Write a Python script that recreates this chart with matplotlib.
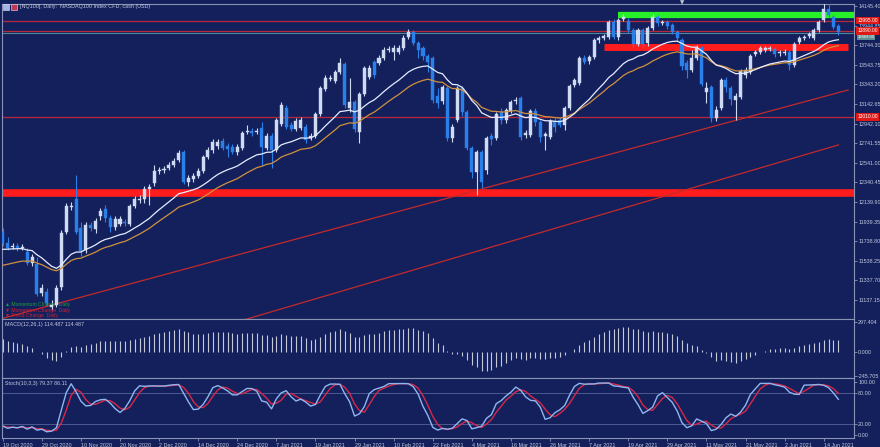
import matplotlib
matplotlib.use('Agg')
import matplotlib.pyplot as plt
import matplotlib.transforms as mtransforms
import numpy as np
import pandas as pd

plt.rcParams['font.family'] = ['Liberation Sans', 'DejaVu Sans']

# ---------------- data ----------------
opens = [11834, 11721, 11680, 11690, 11670, 11629, 11517, 11506, 11210, 11220,
         11066, 11087, 11271, 11834, 12089, 12171, 11875, 11649, 11905, 11864,
         11997, 12069, 11977, 11885, 11915, 11936, 11915, 12100, 12161, 12171,
         12274, 12335, 12458, 12468, 12488, 12519, 12570, 12652, 12345, 12376,
         12407, 12458, 12601, 12672, 12713, 12765, 12713, 12703, 12652, 12693,
         12857, 12867, 12857, 12898, 12693, 12816, 12672, 12938, 13102, 12928,
         12887, 12898, 12908, 12795, 12816, 13041, 13297, 13399, 13378, 13470,
         13552, 13102, 13164, 12857, 13245, 13419, 13573, 13563, 13614, 13695,
         13675, 13675, 13716, 13828, 13880, 13767, 13716, 13634, 13614, 13225,
         13174, 13307, 12795, 12979, 13307, 13061, 12693, 12447, 12652, 12468,
         12816, 12795, 13061, 12979, 13071, 13174, 13204, 12826, 12826, 13071,
         12959, 12816, 12805, 12969, 12979, 12928, 13102, 13337, 13358, 13614,
         13583, 13624, 13798, 13818, 13828, 13982, 13828, 14013, 13992, 13900,
         13757, 13900, 13767, 13921, 14033, 13972, 13982, 13951, 13880, 13798,
         13563, 13491, 13614, 13716, 13266, 13317, 13000, 13102, 13389, 13307,
         13184, 13215, 13440, 13470, 13655, 13675, 13695, 13706, 13706, 13665,
         13665, 13675, 13542, 13777, 13818, 13839, 13818, 13900, 14002, 14115,
         14033, 13941]
closes = [11721, 11670, 11690, 11670, 11680, 11517, 11578, 11199, 11261, 11107,
          11087, 11261, 11823, 12100, 12100, 11834, 11639, 11905, 11875, 11946,
          12048, 11977, 11885, 11967, 11967, 11926, 12100, 12171, 12171, 12274,
          12294, 12458, 12468, 12478, 12519, 12560, 12642, 12345, 12386, 12407,
          12458, 12601, 12672, 12754, 12754, 12693, 12683, 12652, 12703, 12846,
          12867, 12846, 12867, 12703, 12816, 12672, 12979, 13133, 12908, 12887,
          12969, 12979, 12775, 12816, 13041, 13307, 13409, 13409, 13470, 13563,
          13133, 13164, 12887, 13245, 13511, 13511, 13440, 13614, 13695, 13706,
          13716, 13716, 13818, 13880, 13767, 13695, 13634, 13573, 13184, 13153,
          13317, 12795, 12908, 13307, 13061, 12693, 12447, 12652, 12345, 12795,
          12785, 13041, 12979, 13082, 13164, 13184, 12805, 12846, 13071, 12959,
          12805, 12836, 12969, 12908, 12928, 13102, 13327, 13389, 13614, 13573,
          13624, 13798, 13818, 13839, 13982, 13828, 14002, 14033, 13900, 13757,
          13900, 13757, 13921, 14033, 13972, 13982, 13941, 13880, 13818, 13532,
          13491, 13614, 13716, 13348, 13307, 13000, 13082, 13389, 13317, 13194,
          13225, 13481, 13491, 13634, 13675, 13716, 13716, 13716, 13655, 13675,
          13675, 13542, 13757, 13818, 13828, 13859, 13900, 13982, 14115, 14054,
          13931, 13880]
highs = [11875, 11782, 11721, 11721, 11711, 11670, 11609, 11578, 11302, 11261,
         11138, 11291, 11854, 12130, 12141, 12417, 11936, 11936, 11936, 11977,
         12079, 12110, 12008, 11997, 11997, 11967, 12120, 12202, 12212, 12304,
         12325, 12519, 12499, 12509, 12550, 12591, 12672, 12672, 12417, 12437,
         12488, 12621, 12703, 12785, 12785, 12795, 12744, 12734, 12734, 12867,
         12928, 12898, 12898, 12959, 12846, 12846, 13000, 13164, 13133, 12959,
         13000, 13010, 12938, 12846, 13061, 13327, 13440, 13440, 13491, 13614,
         13573, 13409, 13184, 13266, 13532, 13542, 13593, 13644, 13726, 13736,
         13747, 13747, 13849, 13910, 13900, 13788, 13736, 13655, 13634, 13307,
         13337, 13327, 12938, 13327, 13327, 13082, 12713, 12672, 12672, 12816,
         12846, 13061, 13102, 13102, 13184, 13215, 13225, 12877, 13092, 13102,
         12979, 12857, 12990, 13000, 13010, 13123, 13348, 13409, 13634, 13644,
         13644, 13818, 13839, 13859, 14002, 14013, 14023, 14064, 14023, 13921,
         13921, 13921, 13941, 14064, 14054, 14002, 14002, 13972, 13900, 13818,
         13593, 13695, 13747, 13736, 13368, 13337, 13123, 13409, 13419, 13327,
         13256, 13501, 13522, 13655, 13695, 13736, 13736, 13736, 13726, 13695,
         13706, 13695, 13777, 13839, 13849, 13880, 13921, 14002, 14176, 14176,
         14054, 13961]
lows = [11690, 11649, 11660, 11639, 11649, 11496, 11486, 11179, 11179, 11077,
        11036, 11066, 11240, 11813, 12059, 11813, 11588, 11619, 11844, 11823,
        11956, 11936, 11834, 11854, 11895, 11895, 11895, 12079, 12130, 12130,
        12110, 12304, 12427, 12437, 12468, 12499, 12550, 12325, 12304, 12345,
        12386, 12437, 12580, 12642, 12683, 12672, 12601, 12632, 12621, 12672,
        12836, 12816, 12836, 12519, 12672, 12488, 12652, 12918, 12887, 12867,
        12867, 12877, 12744, 12775, 12795, 13020, 13276, 13378, 13358, 13450,
        13102, 13061, 12857, 12744, 13225, 13399, 13409, 13542, 13593, 13675,
        13593, 13655, 13695, 13808, 13747, 13614, 13593, 13470, 13153, 13102,
        13143, 12765, 12754, 12959, 13020, 12672, 12386, 12212, 12284, 12427,
        12724, 12775, 12938, 12949, 13051, 13143, 12775, 12795, 12805, 12918,
        12754, 12672, 12785, 12857, 12908, 12877, 13082, 13317, 13337, 13552,
        13552, 13603, 13767, 13798, 13808, 13808, 13798, 13992, 13869, 13726,
        13736, 13726, 13736, 13900, 13941, 13951, 13910, 13859, 13788, 13491,
        13409, 13470, 13593, 13327, 13153, 12959, 12969, 13082, 13266, 13133,
        12979, 13194, 13409, 13450, 13634, 13655, 13675, 13685, 13624, 13634,
        13644, 13491, 13522, 13757, 13798, 13818, 13798, 13880, 13982, 14033,
        13910, 13849]

date_labels = ['19 Oct 2020', '29 Oct 2020', '10 Nov 2020', '20 Nov 2020', '2 Dec 2020',
               '14 Dec 2020', '24 Dec 2020', '7 Jan 2021', '19 Jan 2021', '29 Jan 2021',
               '10 Feb 2021', '22 Feb 2021', '4 Mar 2021', '16 Mar 2021', '26 Mar 2021',
               '7 Apr 2021', '19 Apr 2021', '29 Apr 2021', '11 May 2021', '21 May 2021',
               '2 Jun 2021', '14 Jun 2021']
date_label_bars = [0, 8, 16, 24, 32, 40, 48, 56, 64, 72, 80, 88, 96, 104, 112,
                   120, 128, 136, 144, 152, 160, 168]

price_labels = [14145.40, 13944.85, 13744.30, 13543.75, 13343.20, 13142.65, 12942.10,
                12741.55, 12541.00, 12340.45, 12139.90, 11939.35, 11738.80, 11538.25,
                11337.70, 11137.15]
macd_labels = [297.404, 0.0, -245.705]
stoch_labels = [100.0, 80.0, 20.0, 0.0]

# horizontal levels / drawn objects
green_level = 14053
green_start_bar = 126
red_thin_levels = [13995, 13890, 13010]
ask_level = 13869
red_thick_upper = 13721
red_thick_upper_bars = [123, 173]
red_thick_lower = 12233
trend1_bars = [-2, 173]
trend1_prices = [10923, 13286]
trend2_bars = [40, 171]
trend2_prices = [10796, 12724]

# moving-average / MACD seed values read at the chart's left edge
white_ma_seed = 11649
orange_ma_seed = 11476
ema12_seed = 11770
ema26_seed = 11630

# ---------------- style ----------------
BG = '#13205c'
TXT = '#c4c8dc'
FRAME = '#8a92b4'
BULL = '#cfdaf3'
BEAR = '#2a7fe8'
FS = 3.9

n = len(closes)
x = np.arange(n)
o = np.array(opens, float); c = np.array(closes, float)
h = np.array(highs, float); l = np.array(lows, float)


def ema_seeded(vals, period, seed):
    a = 2.0 / (period + 1)
    out, e = [], seed
    for v in vals:
        e = e + a * (v - e)
        out.append(e)
    return np.array(out)


white_ma = ema_seeded(c, 20, white_ma_seed)
orange_ma = ema_seeded(c, 30, orange_ma_seed)
macd = ema_seeded(c, 12, ema12_seed) - ema_seeded(c, 26, ema26_seed)

s_c, s_h, s_l = pd.Series(c), pd.Series(h), pd.Series(l)
ll = s_l.rolling(10, min_periods=1).min()
hh = s_h.rolling(10, min_periods=1).max()
num = (s_c - ll).rolling(3, min_periods=1).sum()
den = (hh - ll).rolling(3, min_periods=1).sum()
stoch_k = 100 * num / den
stoch_d = stoch_k.rolling(3, min_periods=1).mean()

# ---------------- figure ----------------
W, H = 880, 447
fig = plt.figure(figsize=(8.8, 4.47), dpi=100, facecolor=BG)
L0, R0 = 2 / W, 852 / W
ax = fig.add_axes([L0, 1 - 319 / H, R0, 315 / H], facecolor=BG)
axm = fig.add_axes([L0, 1 - 378 / H, R0, 59 / H], facecolor=BG, sharex=ax)
axs = fig.add_axes([L0, 1 - 438 / H, R0, 60 / H], facecolor=BG, sharex=ax)

xmin, xmax = -0.15, 174.2
for a in (ax, axm, axs):
    a.set_xlim(xmin, xmax)
    for sp in a.spines.values():
        sp.set_color(FRAME)
        sp.set_linewidth(0.8)
    a.yaxis.tick_right()
    a.tick_params(axis='y', colors=FRAME, labelcolor=TXT, labelsize=FS, length=2,
                  width=0.6, pad=1)
    a.tick_params(axis='x', colors=FRAME, labelcolor=TXT, labelsize=FS, length=2,
                  width=0.6, pad=1.5)

# main panel
ax.set_ylim(10942.8, 14165.9)
ax.set_yticks(price_labels)
ax.set_yticklabels(['%.2f' % v for v in price_labels])
ax.tick_params(axis='x', which='both', bottom=False, labelbottom=False)
axm.tick_params(axis='x', which='both', bottom=False, labelbottom=False)

# level lines
ax.axhline(red_thick_lower, color='#ff1c1c', lw=5.5, zorder=2)
for lv in red_thin_levels:
    ax.axhline(lv, color='#b8283c', lw=0.9, zorder=2)
ax.axhline(ask_level, color='#4f8896', lw=0.8, zorder=2)
ax.plot(trend1_bars, trend1_prices, color='#c42a2a', lw=0.9, zorder=2)
ax.plot(trend2_bars, trend2_prices, color='#c42a2a', lw=0.9, zorder=2)
ax.plot([green_start_bar, xmax], [green_level, green_level], color='#28f028', lw=4.5,
        zorder=2, solid_capstyle='butt')
ax.plot(red_thick_upper_bars, [red_thick_upper, red_thick_upper], color='#ff1c1c',
        lw=5, zorder=2, solid_capstyle='butt')

# candles
bull = c >= o
colors = np.where(bull, BULL, BEAR)
ax.vlines(x, l, h, colors=colors, lw=0.8, zorder=3)
body_lo = np.minimum(o, c)
body_h = np.maximum(np.abs(c - o), 8)
ax.bar(x, body_h, bottom=body_lo, width=0.62, color=colors, edgecolor=colors,
       linewidth=0.3, zorder=4)

# moving averages
ax.plot(x, orange_ma, color='#d0913e', lw=0.9, zorder=5)
ax.plot(x, white_ma, color='#e6ecff', lw=0.9, zorder=5)

# right-axis boxes for levels
trans = mtransforms.blended_transform_factory(ax.transAxes, ax.transData)
for lv, fc in [(red_thin_levels[0], '#e01818'), (red_thin_levels[1], '#e01818'),
               (red_thin_levels[2], '#e01818')]:
    ax.text(1.004, lv, '%.2f' % lv, transform=trans, fontsize=3.5, color='white',
            va='center', ha='left', clip_on=False, zorder=6,
            bbox=dict(boxstyle='square,pad=0.25', fc=fc, ec='none'))
ax.text(1.004, ask_level - 25, '%.2f' % ask_level, transform=trans, fontsize=3.0,
        color='white', va='top', ha='left', clip_on=False, zorder=5,
        bbox=dict(boxstyle='square,pad=0.15', fc='#5d8d90', ec='none'))

# small legend text bottom-left
ax.text(0.004, 0.045, '\u25b2 Momentum Change  Daily', transform=ax.transAxes,
        fontsize=3.6, color='#20a040', va='center')
ax.text(0.004, 0.028, '\u25bc Momentum Change  Daily', transform=ax.transAxes,
        fontsize=3.6, color='#d02030', va='center')
ax.text(0.004, 0.011, '\u25bc Trend Change  Daily', transform=ax.transAxes,
        fontsize=3.6, color='#d02030', va='center')

# MACD panel
axm.set_ylim(-265.8, 327.6)
axm.vlines(x, 0, macd, colors='#c6cad8', lw=0.8)
axm.set_yticks(macd_labels)
axm.set_yticklabels(['%.3f' % v for v in macd_labels])
axm.text(0.003, 0.95, 'MACD(12,26,1) 114.487 114.487', transform=axm.transAxes,
         fontsize=FS, color=TXT, va='top')

# Stochastic panel
axs.set_ylim(-5.7, 107.5)
axs.axhline(80, color='#4c5a92', lw=0.7)
axs.axhline(20, color='#4c5a92', lw=0.7)
axs.plot(x, stoch_d, color='#d82848', lw=1.0)
axs.plot(x, stoch_k, color='#8fb6f0', lw=1.0)
axs.set_yticks(stoch_labels)
axs.set_yticklabels(['%.2f' % v for v in stoch_labels])
axs.text(0.003, 0.95, 'Stoch(10,3,3) 79.37 86.11', transform=axs.transAxes,
         fontsize=FS, color=TXT, va='top')
axs.set_xticks(date_label_bars)
axs.set_xticklabels(date_labels, ha='left')

# title + icons
fig.text(20 / W, 1 - 6.5 / H, '[NQ100], Daily:  NASDAQ100 Index CFD, cash (USD)',
         fontsize=FS, color=TXT, va='center', ha='left')
fig.patches.append(plt.Rectangle((3 / W, 1 - 10 / H), 6 / W, 6 / H,
                                 transform=fig.transFigure, fc='#a8b4e8', ec='#e0e4f4', lw=0.4))
fig.patches.append(plt.Rectangle((11 / W, 1 - 10 / H), 6 / W, 6 / H,
                                 transform=fig.transFigure, fc='#c03858', ec='#e0e4f4', lw=0.4))
fig.text(682 / W, 1 - 3 / H, '\u25bc', fontsize=4, color='#c0c4d4', ha='center', va='center',
         family='DejaVu Sans')

fig.savefig('out.png', dpi=100, facecolor=BG)
